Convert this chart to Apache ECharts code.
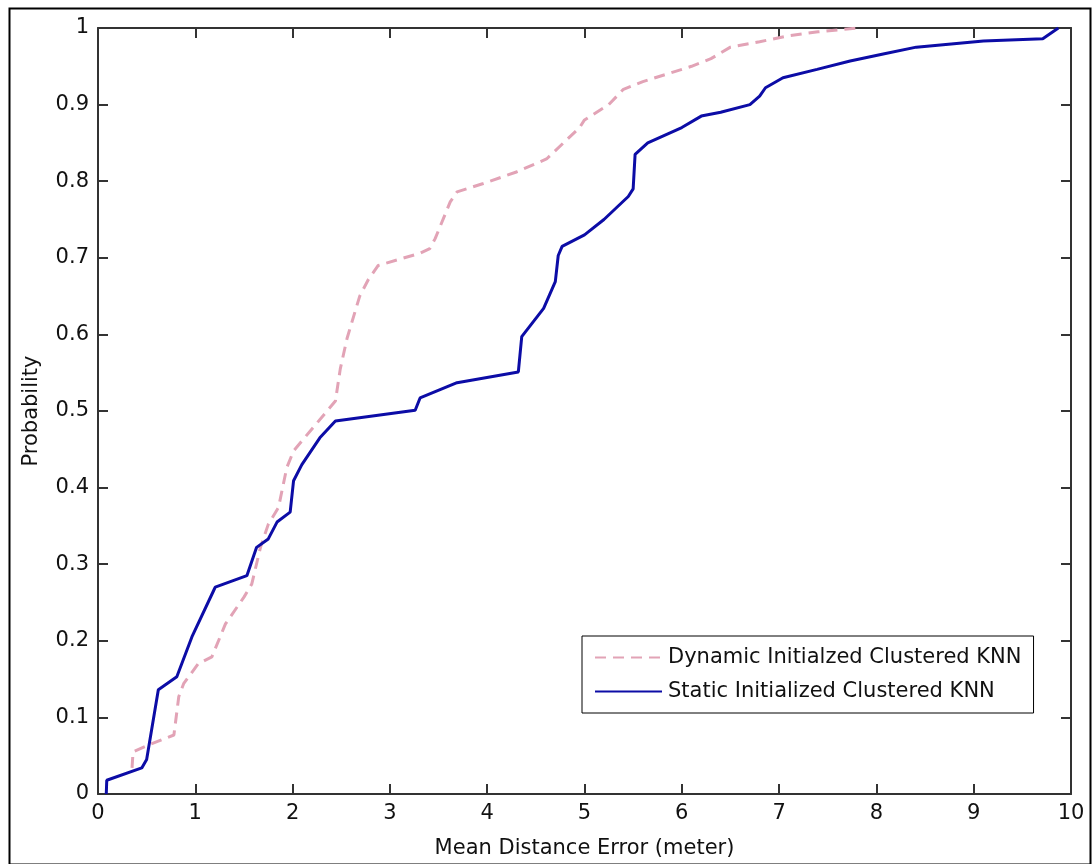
<!DOCTYPE html>
<html>
<head>
<meta charset="utf-8">
<script src="https://cdn.jsdelivr.net/npm/echarts@6/dist/echarts.min.js"></script>
<style>
html,body{margin:0;padding:0;background:#fff;}
#chart{width:1092px;height:864px;}
</style>
</head>
<body>
<div id="chart"></div>
<script>
// Static Initialized Clustered KNN (solid blue)
const staticX = [0.085, 0.09, 0.45, 0.50, 0.62, 0.81, 0.965, 1.19, 1.205, 1.53, 1.63, 1.75, 1.84, 1.975, 2.01, 2.095, 2.28, 2.44, 3.26, 3.31, 3.69, 4.32, 4.355, 4.58, 4.70, 4.73, 4.77, 5.0, 5.2, 5.45, 5.5, 5.52, 5.65, 6.0, 6.2, 6.4, 6.70, 6.80, 6.86, 7.04, 7.39, 7.73, 8.07, 8.41, 9.10, 9.71, 9.87];
const staticP = [0, 0.018, 0.034, 0.045, 0.136, 0.153, 0.205, 0.266, 0.27, 0.285, 0.322, 0.333, 0.355, 0.368, 0.409, 0.430, 0.465, 0.487, 0.501, 0.517, 0.537, 0.551, 0.597, 0.634, 0.669, 0.703, 0.715, 0.73, 0.75, 0.78, 0.79, 0.835, 0.85, 0.87, 0.885, 0.89, 0.90, 0.911, 0.922, 0.935, 0.946, 0.957, 0.966, 0.975, 0.983, 0.986, 1.0];
// Dynamic Initialzed Clustered KNN (dashed pink)
const dynamicX = [0.35, 0.36, 0.52, 0.78, 0.83, 0.88, 1.03, 1.17, 1.31, 1.50, 1.58, 1.67, 1.75, 1.855, 1.94, 2.01, 2.44, 2.49, 2.56, 2.69, 2.78, 2.88, 3.31, 3.41, 3.465, 3.62, 3.69, 3.96, 4.30, 4.61, 4.95, 5.0, 5.25, 5.4, 5.6, 5.85, 6.1, 6.3, 6.5, 6.8, 7.1, 7.4, 7.8];
const dynamicP = [0.034, 0.055, 0.064, 0.077, 0.127, 0.144, 0.170, 0.179, 0.222, 0.257, 0.274, 0.322, 0.352, 0.374, 0.426, 0.448, 0.513, 0.555, 0.595, 0.650, 0.672, 0.690, 0.706, 0.712, 0.725, 0.773, 0.786, 0.797, 0.812, 0.829, 0.87, 0.88, 0.90, 0.92, 0.93, 0.94, 0.95, 0.96, 0.975, 0.982, 0.99, 0.995, 1.0];
const xTicks = [0, 1, 2, 3, 4, 5, 6, 7, 8, 9, 10];
const yTicks = [0, 0.1, 0.2, 0.3, 0.4, 0.5, 0.6, 0.7, 0.8, 0.9, 1];
const seriesNames = ['Dynamic Initialzed Clustered KNN', 'Static Initialized Clustered KNN'];
const xName = 'Mean Distance Error (meter)';
const yName = 'Probability';

const pairs = (xs, ys) => xs.map((x, i) => [x, ys[i]]);
const FONT = 'DejaVu Sans';
const FS = 21;
const axisLine = {show: true, onZero: false, lineStyle: {color: '#333', width: 2}};
const tick = {show: true, inside: true, length: 10, lineStyle: {color: '#333', width: 2}};

const chart = echarts.init(document.getElementById('chart'), null, {renderer: 'canvas'});
chart.setOption({
  backgroundColor: '#fff',
  animation: false,
  textStyle: {fontFamily: FONT},
  grid: {left: 98, right: 21, top: 28, bottom: 66, containLabel: false},
  graphic: [{
    type: 'rect', left: 7, top: 6, z: 100,
    shape: {width: 1081, height: 856},
    style: {fill: 'none', stroke: '#000', lineWidth: 2}
  }],
  legend: {
    orient: 'vertical',
    left: 582, top: 636,
    backgroundColor: '#fff',
    borderColor: '#000', borderWidth: 1,
    padding: [11, 12, 11, 12],
    itemWidth: 67, itemHeight: 14, itemGap: 13,
    itemStyle: {opacity: 0},
    textStyle: {fontFamily: FONT, fontSize: FS, color: '#111', padding: [0, 0, 0, 1]},
    data: seriesNames
  },
  xAxis: [{
    type: 'value', min: 0, max: 10, interval: 1,
    name: xName, nameLocation: 'middle', nameGap: 44,
    nameTextStyle: {fontFamily: FONT, fontSize: FS, color: '#111'},
    axisLine: axisLine, axisTick: tick, splitLine: {show: false},
    axisLabel: {fontFamily: FONT, fontSize: FS, color: '#111', margin: 9,
      formatter: v => xTicks.includes(v) ? String(v) : ''}
  }, {
    type: 'value', min: 0, max: 10, interval: 1, position: 'top',
    axisLine: axisLine, axisTick: tick, axisLabel: {show: false}, splitLine: {show: false}
  }],
  yAxis: [{
    type: 'value', min: 0, max: 1, interval: 0.1,
    name: yName, nameLocation: 'middle', nameGap: 56,
    nameTextStyle: {fontFamily: FONT, fontSize: FS, color: '#111'},
    axisLine: axisLine, axisTick: tick, splitLine: {show: false},
    axisLabel: {fontFamily: FONT, fontSize: FS, color: '#111', margin: 9,
      formatter: v => { const t = yTicks.find(k => Math.abs(k - v) < 1e-9); return t === undefined ? '' : String(t); }}
  }, {
    type: 'value', min: 0, max: 1, interval: 0.1, position: 'right',
    axisLine: axisLine, axisTick: tick, axisLabel: {show: false}, splitLine: {show: false}
  }],
  series: [{
    name: seriesNames[0], type: 'line', symbol: 'none',
    data: pairs(dynamicX, dynamicP),
    lineStyle: {color: '#e2a3b6', width: 3, type: [11, 7]},
    itemStyle: {color: '#e2a3b6'}, z: 2
  }, {
    name: seriesNames[1], type: 'line', symbol: 'none',
    data: pairs(staticX, staticP),
    lineStyle: {color: '#0c0ca6', width: 3},
    itemStyle: {color: '#0c0ca6'}, z: 3
  }]
});
</script>
</body>
</html>
